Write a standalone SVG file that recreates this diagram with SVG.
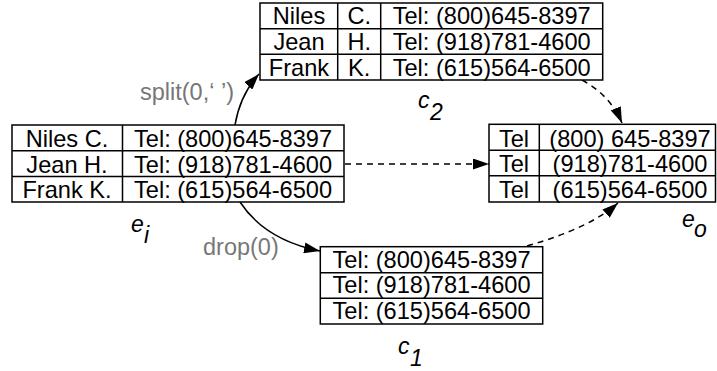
<svg xmlns="http://www.w3.org/2000/svg" width="717" height="371" viewBox="0 0 717 371">
<style>
.cell{fill:#fff;stroke:#000;stroke-width:1.5}
.ln{stroke:#000;stroke-width:1.5}
.t{font-family:"Liberation Sans",Arial,Helvetica,sans-serif;font-size:23.6px;fill:#000;text-anchor:middle}
.lab{font-family:"Liberation Sans",Arial,Helvetica,sans-serif;font-size:23.5px;fill:#777}
.var{font-family:"Liberation Sans",Arial,Helvetica,sans-serif;font-size:23px;font-style:italic;fill:#000}
.edge{fill:none;stroke:#000;stroke-width:1.5}
.dash{stroke-dasharray:6,5}
</style>
<defs>
<marker id="ah" viewBox="0 0 16 11" refX="16" refY="5.5" markerWidth="16" markerHeight="11" markerUnits="userSpaceOnUse" orient="auto">
<path d="M0,0 L16,5.5 L0,11 z" fill="#000"/>
</marker>
</defs>
<g id="connectors">
<path class="edge" d="M235,125 Q240,95 259,74" marker-end="url(#ah)"/>
<path class="edge" d="M240,202 Q265,240 320,251" marker-end="url(#ah)"/>
<path class="edge dash" d="M345,164 L489,164" marker-end="url(#ah)"/>
<path class="edge dash" d="M582,80 Q610,95 622,123" marker-end="url(#ah)"/>
<path class="edge dash" d="M527,246 Q590,228 618,203" marker-end="url(#ah)"/>
<text class="lab" x="140" y="100">split(0,‘ ’)</text>
<text class="lab" x="203" y="255">drop(0)</text>
</g>
<g id="e_i">
<rect class="cell" x="12" y="125" width="332" height="77"/>
<line class="ln" x1="12" y1="150.7" x2="344" y2="150.7"/>
<line class="ln" x1="12" y1="176.5" x2="344" y2="176.5"/>
<line class="ln" x1="122.5" y1="125" x2="122.5" y2="202"/>
<text class="t" x="67" y="146.5">Niles C.</text>
<text class="t" x="67" y="172.5">Jean H.</text>
<text class="t" x="67" y="198">Frank K.</text>
<text class="t" x="233" y="146.5">Tel: (800)645-8397</text>
<text class="t" x="233" y="172.5">Tel: (918)781-4600</text>
<text class="t" x="233" y="198">Tel: (615)564-6500</text>
<text class="var" x="131" y="232">e</text>
<text class="var" x="144" y="243">i</text>
</g>
<g id="c_2">
<rect class="cell" x="260" y="3" width="342.7" height="77"/>
<line class="ln" x1="260" y1="28.7" x2="602.7" y2="28.7"/>
<line class="ln" x1="260" y1="54.3" x2="602.7" y2="54.3"/>
<line class="ln" x1="337.7" y1="3" x2="337.7" y2="80"/>
<line class="ln" x1="380.7" y1="3" x2="380.7" y2="80"/>
<text class="t" x="299" y="23.5">Niles</text>
<text class="t" x="299" y="50">Jean</text>
<text class="t" x="299" y="76">Frank</text>
<text class="t" x="359.2" y="23.5">C.</text>
<text class="t" x="359.2" y="50">H.</text>
<text class="t" x="359.2" y="76">K.</text>
<text class="t" x="491.7" y="23.5">Tel: (800)645-8397</text>
<text class="t" x="491.7" y="50">Tel: (918)781-4600</text>
<text class="t" x="491.7" y="76">Tel: (615)564-6500</text>
<text class="var" x="418" y="108">c</text>
<text class="var" x="430" y="120">2</text>
</g>
<g id="e_o">
<rect class="cell" x="489" y="124.3" width="226.5" height="77.7"/>
<line class="ln" x1="489" y1="150.3" x2="715.5" y2="150.3"/>
<line class="ln" x1="489" y1="175.7" x2="715.5" y2="175.7"/>
<line class="ln" x1="539.3" y1="124.3" x2="539.3" y2="202"/>
<text class="t" x="514" y="146.5">Tel</text>
<text class="t" x="514" y="171.7">Tel</text>
<text class="t" x="514" y="197.7">Tel</text>
<text class="t" x="630" y="146.5">(800) 645-8397</text>
<text class="t" x="630" y="171.7">(918)781-4600</text>
<text class="t" x="630" y="197.7">(615)564-6500</text>
<text class="var" x="682" y="226.5">e</text>
<text class="var" x="694" y="236.5">o</text>
</g>
<g id="c_1">
<rect class="cell" x="320.3" y="246.7" width="222.4" height="77.3"/>
<line class="ln" x1="320.3" y1="272.7" x2="542.7" y2="272.7"/>
<line class="ln" x1="320.3" y1="298.3" x2="542.7" y2="298.3"/>
<text class="t" x="431.5" y="267.5">Tel: (800)645-8397</text>
<text class="t" x="431.5" y="293.3">Tel: (918)781-4600</text>
<text class="t" x="431.5" y="319">Tel: (615)564-6500</text>
<text class="var" x="398" y="354">c</text>
<text class="var" x="410" y="366">1</text>
</g>
</svg>
